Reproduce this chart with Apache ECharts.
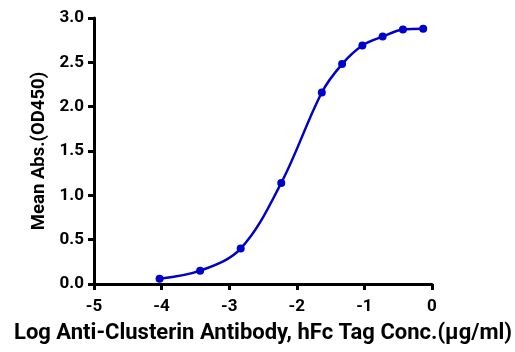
<!DOCTYPE html>
<html>
<head>
<meta charset="utf-8">
<script src="https://cdn.jsdelivr.net/npm/echarts@6/dist/echarts.min.js"></script>
<style>
  html, body { margin: 0; padding: 0; background: #fff; }
  #chart { width: 515px; height: 352px; }
</style>
</head>
<body>
<div id="chart"></div>
<script>
// log concentration (µg/ml) and mean OD450
const logConc = [-4.03, -3.43, -2.83, -2.23, -1.63, -1.33, -1.03, -0.73, -0.43, -0.13];
const meanAbs = [0.06, 0.15, 0.40, 1.14, 2.16, 2.48, 2.69, 2.79, 2.87, 2.88];

const FONT = 'Roboto';
const BLUE = '#0000c8';

const chart = echarts.init(document.getElementById('chart'), null, { renderer: 'canvas' });

const axisCommon = {
  axisLine: { show: true, onZero: false, lineStyle: { color: '#000', width: 3 } },
  axisTick: { show: true, length: 6, lineStyle: { color: '#000', width: 3 } },
  splitLine: { show: false },
  axisLabel: { color: '#000', fontFamily: FONT, fontWeight: 700, fontSize: 17 },
  nameTextStyle: { color: '#000', fontFamily: FONT, fontWeight: 700, fontSize: 22 }
};

chart.setOption({
  animation: false,
  grid: { left: 94, right: 82, top: 18, bottom: 68 },
  xAxis: Object.assign({}, axisCommon, {
    type: 'value',
    min: -5,
    max: 0,
    interval: 1,
    name: 'Log Anti-Clusterin Antibody, hFc Tag Conc.(μg/ml)',
    nameLocation: 'middle',
    nameGap: 38,
    axisLabel: Object.assign({}, axisCommon.axisLabel, { margin: 14 })
  }),
  yAxis: Object.assign({}, axisCommon, {
    type: 'value',
    min: 0,
    max: 3,
    interval: 0.5,
    name: 'Mean Abs.(OD450)',
    nameLocation: 'middle',
    nameGap: 45,
    nameTextStyle: Object.assign({}, axisCommon.nameTextStyle, { fontSize: 18.5 }),
    axisLabel: Object.assign({}, axisCommon.axisLabel, {
      margin: 10,
      formatter: v => v.toFixed(1)
    })
  }),
  series: [{
    type: 'line',
    data: logConc.map((x, i) => [x, meanAbs[i]]),
    smooth: 0.35,
    symbol: 'circle',
    symbolSize: 8,
    lineStyle: { color: BLUE, width: 2.5 },
    itemStyle: { color: BLUE }
  }]
});
</script>
</body>
</html>
